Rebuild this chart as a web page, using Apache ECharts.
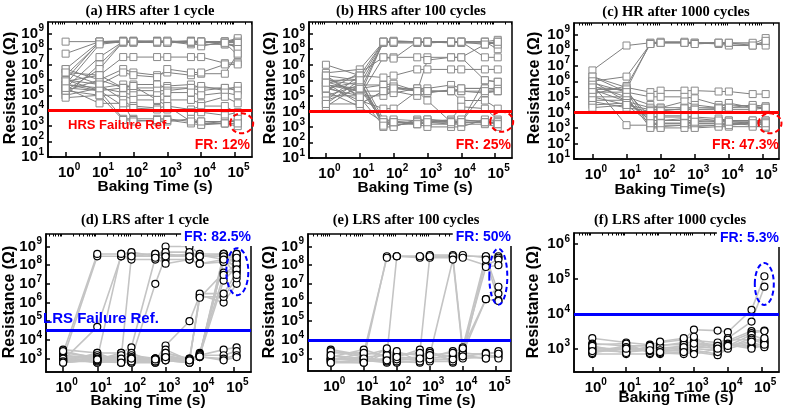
<!DOCTYPE html>
<html><head><meta charset="utf-8">
<script src="https://cdn.jsdelivr.net/npm/echarts@6/dist/echarts.min.js"></script>
<style>html,body{margin:0;padding:0;background:#fff}#c{width:785px;height:415px}</style>
</head><body><div id="c"></div>
<script>
// ---------- DATA ----------
const bakingTimes = [1, 10, 50, 100, 500, 1000, 5000, 10000, 50000, 120000];
const xTickExponents = [0, 1, 2, 3, 4, 5];
const yTicksHRS = [1, 2, 3, 4, 5, 6, 7, 8, 9];
const yTicksLRS = [3, 4, 5, 6, 7, 8, 9];
const yTicksLRS1000 = [3, 4, 5, 6];

const hrsAfter1Cycle = [
  [3e8, 3e8, 3e8, 3e8, 3e8, 3e8, 3e8, 2.5e8, 3e8, 4e8],
  [5e7, 3e8, 3.5e8, 3e8, 3.5e8, 3e8, 3.5e8, 3e8, 2.5e8, 3e8],
  [5e6, 3e8, 3e8, 3.5e8, 3e8, 2.5e8, 3e8, 3e8, 3e8, 5e8],
  [2e6, 2.5e8, 3e8, 3e8, 3e8, 3e8, 2e8, 2e8, 2e8, 2e8],
  [1e6, 3e8, 2.5e8, 3e8, 3e8, 3e8, 3e8, 3e8, 2e8, 1.5e8],
  [5e5, 2e8, 3e8, 2.5e8, 3e8, 3.5e8, 2.5e8, 2.5e8, 3e8, 3e8],
  [3e5, 3e7, 3e8, 3e8, 2.5e8, 3e8, 3e8, 3e8, 3e8, 2.5e8],
  [1e5, 1e7, 3e8, 3e8, 3e8, 2.5e8, 3e8, 1.5e8, 3e8, 1e8],
  [2e5, 5e6, 3e8, 3e8, 3e8, 3e8, 3e8, 3e8, 2.5e8, 4e7],
  [3e6, 2e6, 3e7, 3e7, 3e7, 3e7, 3e7, 3e7, 1.2e7, 1.3e7],
  [5e6, 1e6, 5e6, 3e6, 2e6, 3e6, 2e6, 2.5e6, 2.5e6, 5e7],
  [1e6, 5e5, 3e6, 2e6, 1.5e6, 5e6, 3e6, 3e6, 1e7, 1e7],
  [5e5, 3e5, 5e5, 3e5, 3e5, 4e5, 5e5, 3e5, 3e5, 3e5],
  [3e5, 2e5, 3e5, 5e5, 5e5, 3e5, 3e5, 4e5, 2e5, 4e5],
  [2e5, 1e6, 3e5, 2e5, 2e5, 2e5, 3e5, 2e5, 3e5, 2e5],
  [1e5, 3e5, 1.5e5, 1e5, 1e5, 1.5e5, 1.5e5, 1e5, 1.5e5, 1e5],
  [7e4, 1e5, 1e5, 5e4, 5e4, 5e4, 5e4, 3e4, 8e4, 3e4],
  [1e6, 2e5, 2e4, 2e4, 1.5e4, 2e4, 1.2e4, 2e4, 2e4, 7e3],
  [3e6, 5e5, 5e4, 1.5e4, 1.2e4, 1.2e4, 8e3, 8e3, 5e3, 8e3],
  [5e5, 2e5, 3e3, 3e3, 3e3, 3e3, 2e3, 1.5e3, 1.5e3, 1e3],
  [2e5, 1e5, 2.5e3, 2.5e3, 2e3, 2e3, 3e3, 2e3, 2e3, 2e3],
  [3e5, 3e4, 3e4, 2e3, 2.5e3, 2.5e3, 1.5e3, 1.2e3, 1.5e3, 3e3],
  [8e5, 2e6, 3e5, 4e5, 5e4, 2e4, 2e3, 2e3, 1.5e3, 1.5e3]
];

const hrsAfter100Cycles = [
  [1e7, 2e6, 3e8, 3e8, 3e8, 3e8, 3e8, 3e8, 3e8, 4e8],
  [3e6, 5e6, 3e8, 3.5e8, 3e8, 3e8, 3e8, 3e8, 2e8, 3e8],
  [2e6, 1e6, 3e8, 3e8, 3e8, 2.5e8, 3e8, 3e8, 3e8, 2e8],
  [1e6, 5e5, 2.5e8, 3e8, 3e8, 3e8, 2.5e8, 3e8, 3e8, 1e8],
  [5e5, 2e5, 3e8, 2.5e8, 2.5e8, 3e8, 3e8, 2.5e8, 2.5e8, 3e8],
  [3e5, 1e5, 3e8, 3e8, 3e8, 3e8, 3e8, 3e8, 3e8, 2e8],
  [2e5, 3e6, 3e7, 3e7, 3e7, 3e7, 3e7, 3e7, 2e8, 3e8],
  [1e5, 1e5, 3e7, 2.5e7, 3e8, 3e8, 3e8, 3e8, 3e7, 3e7],
  [5e4, 2e6, 1.5e6, 2e6, 5e6, 5e6, 5e6, 5e6, 5e6, 5e6],
  [2e4, 5e5, 5e5, 6e5, 2e5, 2e7, 3e7, 3e7, 1e6, 8e5],
  [5e5, 3e5, 5e5, 3e5, 3e5, 3e5, 5e5, 3e5, 3e5, 2.5e5],
  [8e5, 2e5, 2e5, 4e5, 2e5, 2e5, 2e5, 2e5, 2e5, 2e5],
  [1.5e6, 1e5, 1e5, 2e5, 1e5, 1.5e5, 2.5e5, 2e5, 1.5e5, 2e5],
  [3e4, 3e4, 2e5, 1.5e5, 3e5, 2e5, 2e5, 3e5, 3e5, 3e5],
  [4e5, 5e4, 1.5e4, 1.5e4, 2e5, 2e5, 2e5, 5e4, 5e4, 1.5e4],
  [2e5, 2e4, 2e3, 2e3, 2e3, 2e3, 3e3, 2e4, 1.5e4, 3e3],
  [1e5, 5e5, 1.5e3, 1.5e3, 1.5e3, 2e3, 2e3, 2e3, 2e3, 2e3],
  [5e4, 3e5, 2e3, 1.2e3, 2e3, 1.5e3, 1.5e3, 1.5e3, 1.5e3, 1e3],
  [3e4, 1e6, 1e3, 1e3, 3e3, 2.5e3, 2e3, 2.5e3, 2.5e3, 1.5e3],
  [6e5, 2e6, 3e3, 2.5e3, 1.5e3, 1e3, 1e3, 1e3, 3e3, 2.5e3],
  [3e5, 8e5, 2e3, 3e3, 2.5e3, 3e3, 2.5e3, 3e3, 2e3, 2e3],
  [1e6, 1e6, 2e3, 2e3, 2e3, 3e3, 2e3, 2e3, 2e5, 2e5],
  [2e6, 8e4, 1.2e3, 2e3, 1.5e3, 2e3, 1.5e3, 2e3, 1e6, 8e5],
  [7e5, 3e4, 2e5, 3e5, 2e5, 5e4, 2e3, 2e3, 2e3, 1.5e3]
];

const hrAfter1000Cycles = [
  [5e6, 2e8, 3e8, 3e8, 3e8, 3e8, 3e8, 2.5e8, 2.5e8, 6e8],
  [1e6, 2e6, 2.5e8, 3e8, 3e8, 3e8, 2.5e8, 2e8, 2e8, 3e8],
  [3e5, 3e5, 3e8, 3.5e8, 3.5e8, 3e8, 3e8, 3e8, 3e8, 2e8],
  [1.5e5, 5e5, 2.5e8, 3e8, 3e8, 2.5e8, 3e8, 3e8, 2e8, 4e8],
  [2e6, 4e5, 2e5, 2.5e5, 2.5e5, 2.5e5, 2.2e5, 2.2e5, 1.5e5, 1.5e5],
  [8e5, 2e5, 1e5, 1e5, 1e5, 8e4, 3e4, 3e4, 2.5e4, 2e4],
  [5e5, 1e5, 3e4, 2e4, 5e4, 3e4, 2e4, 4e4, 2e4, 2e4],
  [3e5, 5e4, 2e4, 2e4, 2e4, 2e4, 2e4, 2e4, 3e4, 2.5e4],
  [1e5, 3e4, 1.5e4, 1.5e4, 1.5e4, 1.5e4, 1.5e4, 1.5e4, 1.5e4, 2e4],
  [5e4, 2e4, 1.2e4, 1.2e4, 1.8e4, 1.5e4, 1.8e4, 2e4, 2e4, 2e4],
  [2e6, 2e5, 5e3, 5e3, 5e3, 4e3, 3e3, 3e3, 3e3, 3e3],
  [1e6, 5e4, 3e3, 3e3, 3e3, 3e3, 2.5e3, 2.5e3, 2.5e3, 2e3],
  [6e5, 1.5e3, 1.5e3, 2e3, 2e3, 2e3, 2e3, 2e3, 2e3, 1.5e3],
  [4e5, 3e5, 2e3, 1.5e3, 1.5e3, 1.5e3, 1.5e3, 1.5e3, 2e3, 2.5e3],
  [2e5, 2e5, 1.2e3, 1.2e3, 1.5e3, 1.2e3, 1.5e3, 2e3, 1.5e3, 1e3],
  [1e5, 1e5, 1e3, 1e3, 1e3, 1e3, 1.2e3, 1.2e3, 1.2e3, 1.2e3],
  [6e4, 6e4, 3e3, 3e3, 4e3, 2e3, 2e3, 1.5e3, 2.5e3, 3e3],
  [3e4, 4e4, 5e3, 6e3, 6e3, 5e3, 4e3, 3e3, 3e3, 2.5e3],
  [2e4, 3e4, 2e3, 2e3, 2e3, 2.5e3, 3e3, 2.5e3, 2e3, 2e3]
];

const lrsAfter1Cycle = [
  [1e3, 3e8, 3e8, 3e8, 3e8, 4e8, 3e8, 3e8, 3e8, 4e8],
  [2e3, 4e8, 4e8, 4e8, 4e8, 3e8, 4e8, 3.5e8, 2e8, 3e8],
  [8e2, 5e4, 3e8, 2e8, 2e8, 1e9, 1e9, 4e8, 4e8, 2e8],
  [1.5e3, 1e3, 4e8, 5e8, 3e8, 2e8, 2e8, 1.2e8, 1.5e8, 1e8],
  [7e2, 8e2, 1e3, 3e8, 4e8, 5e8, 5e8, 3e8, 3e8, 3e8],
  [3e3, 2e3, 2e3, 4e3, 2.5e8, 1.2e8, 2e8, 1.2e8, 2e8, 1.5e8],
  [1.2e3, 1.5e3, 8e2, 1e3, 1e7, 3e8, 3e8, 3e8, 4e8, 2e8],
  [9e2, 7e2, 7e2, 7e2, 8e2, 5e3, 1e5, 2.5e6, 1e6, 1e7],
  [1e3, 6e2, 1.5e3, 2e3, 6e2, 3e3, 8e2, 2e6, 2e6, 2e7],
  [6e2, 9e2, 2e3, 8e2, 1e3, 1.5e3, 7e2, 3e6, 3e6, 4e7],
  [2e3, 1.2e3, 6e2, 1.5e3, 1e3, 1e3, 1e3, 1.8e6, 4e7, 5e7],
  [8e2, 1e3, 1e3, 1.2e3, 9e2, 1.2e3, 9e2, 1.5e3, 1.5e7, 8e7],
  [7e2, 2e3, 7e2, 6e2, 7e2, 8e2, 6e2, 2e3, 3e7, 1.2e8],
  [1.5e3, 8e2, 1.2e3, 1e3, 8e2, 2e3, 1e3, 1.5e3, 4e8, 3e8],
  [1.2e3, 6e2, 8e2, 7e2, 9e2, 9e2, 7e2, 1.2e3, 2e8, 4e8],
  [9e2, 1.5e3, 9e2, 9e2, 1e3, 1.2e3, 8e2, 1.8e3, 1.5e8, 2.5e8],
  [2.5e3, 1e3, 1.5e3, 6e2, 6e2, 1e3, 6e2, 1.5e3, 3e8, 6e7],
  [7e2, 7e2, 6e2, 8e2, 7e2, 1.5e3, 8e2, 1.3e3, 2e8, 3e7],
  [8e2, 8e2, 9e2, 1e3, 1e3, 2e3, 9e2, 1.5e3, 3e3, 4e3],
  [1e3, 1.2e3, 8e2, 8e2, 8e2, 1e3, 7e2, 1.5e3, 1.5e3, 2.5e3],
  [7e2, 1e3, 1e3, 7e2, 7e2, 8e2, 6e2, 1.2e3, 1e3, 1.5e3],
  [6e2, 9e2, 6e2, 1e3, 9e2, 1.2e3, 8e2, 1.3e3, 8e2, 1.2e3]
];

const lrsAfter100Cycles = [
  [1e3, 1e3, 3e8, 3e8, 3e8, 3e8, 3e8, 3e8, 3e8, 3e8],
  [2e3, 2e3, 2.5e8, 3e8, 2.5e8, 3.5e8, 3.5e8, 3.5e8, 2.5e8, 2.5e8],
  [8e2, 1.2e3, 1.5e3, 3e8, 3e8, 2.5e8, 2.5e8, 2.5e8, 1e8, 2e8],
  [1.5e3, 7e2, 8e2, 1.5e3, 2e3, 3e8, 3e8, 3e3, 8e7, 1e8],
  [3e3, 1.5e3, 3e3, 8e2, 1e3, 1.5e3, 2e8, 2e3, 1.5e6, 7e6],
  [6e2, 8e2, 6e2, 2e3, 1.5e3, 2e3, 8e2, 4e3, 3e8, 3e6],
  [1.2e3, 3e3, 1.2e3, 1.2e3, 3e3, 1e3, 1.5e3, 1.5e3, 2e8, 1.3e6],
  [7e2, 6e2, 2e3, 6e2, 8e2, 2.5e3, 6e2, 1.2e3, 2e3, 2e3],
  [9e2, 9e2, 9e2, 1e3, 1.2e3, 8e2, 1e3, 2e3, 1.5e3, 2.5e3],
  [2.5e3, 1.2e3, 7e2, 7e2, 6e2, 1.2e3, 2.5e3, 1.5e3, 1e3, 1.5e3],
  [1e3, 7e2, 1e3, 9e2, 9e2, 2e3, 1.2e3, 1e3, 1.2e3, 1.2e3],
  [8e2, 2e3, 1.5e3, 1.5e3, 2e3, 7e2, 7e2, 1.8e3, 1.8e3, 1e3],
  [1.5e3, 1e3, 8e2, 2.5e3, 7e2, 9e2, 9e2, 1.3e3, 1e3, 1.8e3],
  [6e2, 6e2, 3.5e3, 1.2e3, 1e3, 1.5e3, 2e3, 3.5e3, 1.5e6, 1.2e6]
];

const lrsAfter1000Cycles = [
  [2e3, 1.5e3, 1.3e3, 1.5e3, 1.8e3, 3.5e3, 3.3e3, 3e3, 1.3e4, 1.2e5],
  [1.4e3, 1.2e3, 1.2e3, 1.2e3, 1.5e3, 1.5e3, 1.3e3, 2e3, 6e3, 6e4],
  [1e3, 1e3, 1e3, 1e3, 1.2e3, 1.3e3, 1.2e3, 1.7e3, 3.2e3, 3.3e3],
  [9e2, 8e2, 9e2, 8e2, 1e3, 1.2e3, 1e3, 1.5e3, 2.8e3, 3.2e3],
  [8e2, 1.2e3, 8e2, 9e2, 9e2, 1e3, 9e2, 1.2e3, 2.5e3, 1.8e3],
  [7e2, 7e2, 7e2, 7e2, 8e2, 9e2, 7e2, 1.1e3, 2e3, 1.6e3],
  [1.1e3, 9e2, 1.1e3, 1.3e3, 1.3e3, 1.7e3, 1.5e3, 1.8e3, 1.8e3, 1.4e3],
  [1.3e3, 1.4e3, 7.5e2, 7.5e2, 7e2, 8e2, 6.5e2, 1e3, 1.5e3, 1.2e3],
  [9.5e2, 8e2, 1e3, 1.1e3, 1e3, 1.1e3, 1.1e3, 1.3e3, 1.2e3, 1.1e3],
  [7.5e2, 1.1e3, 8.5e2, 9e2, 1.1e3, 1.4e3, 1.2e3, 1.4e3, 1.1e3, 1.5e3],
  [1.2e3, 7.5e2, 1.2e3, 1.6e3, 2e3, 2.2e3, 8e2, 1.3e3, 1e3, 1.3e3],
  [8.5e2, 1e3, 9e2, 8e2, 8e2, 7e2, 1e3, 1.2e3, 1.6e3, 2e3]
];

const failureRefs = [1e4, 1e4, 1e4, 3.5e4, 1e4, 1e4];
const panelTitles = ['(a) HRS after 1 cycle', '(b) HRS after 100 cycles', '(c) HR after 1000 cycles',
  '(d) LRS after 1 cycle', '(e) LRS after 100 cycles', '(f) LRS after 1000 cycles'];
const xNames = ['Baking Time (s)', 'Baking Time (s)', 'Baking Time(s)', 'Baking Time (s)', 'Baking Time (s)', 'Baking Time (s)'];
const yName = 'Resistance (\u03A9)';
const frLabels = ['FR: 12%', 'FR: 25%', 'FR: 47.3%', 'FR: 82.5%', 'FR: 50%', 'FR: 5.3%'];

// ---------- LAYOUT / STYLE ----------
const SANS = '"Liberation Sans", Arial, sans-serif';
const SERIF = '"Liberation Serif", "Times New Roman", serif';
const L = Math.log10;

const panels = [
  {rows: hrsAfter1Cycle, kind: 'hrs', grid: {left: 48, top: 22, width: 204, height: 135}, xr: [-0.52, 5.5], yr: [1, 9.75], yTicks: yTicksHRS},
  {rows: hrsAfter100Cycles, kind: 'hrs', grid: {left: 309, top: 22, width: 203, height: 136}, xr: [-0.5, 5.5], yr: [1, 9.75], yTicks: yTicksHRS},
  {rows: hrAfter1000Cycles, kind: 'hrs', grid: {left: 574, top: 23, width: 205, height: 136}, xr: [-0.54, 5.47], yr: [1, 9.75], yTicks: yTicksHRS},
  {rows: lrsAfter1Cycle, kind: 'lrs', grid: {left: 46, top: 234, width: 205, height: 138}, xr: [-0.5, 5.5], yr: [2.28, 9.67], yTicks: yTicksLRS},
  {rows: lrsAfter100Cycles, kind: 'lrs', grid: {left: 308, top: 234, width: 203, height: 137}, xr: [-0.69, 5.46], yr: [2.33, 9.67], yTicks: yTicksLRS},
  {rows: lrsAfter1000Cycles, kind: 'lrs', grid: {left: 574, top: 233, width: 205, height: 139}, xr: [-0.54, 5.51], yr: [2.33, 6.32], yTicks: yTicksLRS1000}
];

const minorExps = [];
for (let k = -1; k <= 5; k++) for (let m = 2; m <= 9; m++) minorExps.push(L(m * Math.pow(10, k)));

const rich = {
  b: {fontFamily: SANS, fontWeight: 'bold', fontSize: 15, lineHeight: 18, verticalAlign: 'bottom', color: '#000'},
  s: {fontFamily: SANS, fontWeight: 'bold', fontSize: 10, lineHeight: 10, verticalAlign: 'top', color: '#000'}
};
const powFmt = v => '{b|10}{s|' + Math.round(v) + '}';

const grid = [], xAxis = [], yAxis = [], series = [];
panels.forEach((p, i) => {
  grid.push(Object.assign({show: true, borderColor: '#000', borderWidth: 1.5, containLabel: false}, p.grid));
  xAxis[i] = {
    type: 'value', gridIndex: i, min: p.xr[0], max: p.xr[1],
    axisLine: {show: true, onZero: false, lineStyle: {color: '#000', width: 1.5}},
    axisTick: {show: true, inside: true, length: 5, customValues: xTickExponents, lineStyle: {color: '#000', width: 1.5}},
    axisLabel: {customValues: xTickExponents, formatter: powFmt, rich: rich, margin: 5, padding: [0, 0, 0, 7],
      showMinLabel: true, showMaxLabel: true, hideOverlap: false},
    splitLine: {show: false}
  };
  xAxis[6 + i] = {
    type: 'value', gridIndex: i, min: p.xr[0], max: p.xr[1],
    axisLine: {show: false, onZero: false},
    axisTick: {show: true, inside: true, length: 2.5, customValues: minorExps.filter(v => v > p.xr[0] && v < p.xr[1]), lineStyle: {color: '#000', width: 1}},
    axisLabel: {show: false}, splitLine: {show: false}
  };
  // main y axis: "10" mantissa labels
  yAxis[i] = {
    type: 'value', gridIndex: i, min: p.yr[0], max: p.yr[1], position: 'left',
    axisLine: {show: true, onZero: false, lineStyle: {color: '#000', width: 1.5}},
    axisTick: {show: true, inside: true, length: 4, customValues: p.yTicks, lineStyle: {color: '#000', width: 1.5}},
    axisLabel: {customValues: p.yTicks, formatter: () => '10', fontFamily: SANS, fontWeight: 'bold', fontSize: 15, lineHeight: 14,
      color: '#000', margin: 10, showMinLabel: true, showMaxLabel: true, hideOverlap: false},
    splitLine: {show: false}
  };
  // overlay y axis: exponent superscripts
  yAxis[6 + i] = {
    type: 'value', gridIndex: i, min: p.yr[0], max: p.yr[1], position: 'left',
    axisLine: {show: false, onZero: false}, axisTick: {show: false}, splitLine: {show: false},
    axisLabel: {customValues: p.yTicks, formatter: v => String(Math.round(v)), fontFamily: SANS, fontWeight: 'bold', fontSize: 10,
      lineHeight: 10, verticalAlign: 'bottom', color: '#000', margin: 4, showMinLabel: true, showMaxLabel: true, hideOverlap: false}
  };
  const hrs = p.kind === 'hrs';
  const lineColor = hrs ? '#808080' : '#c4c4c4';
  p.rows.forEach(row => {
    series.push({
      type: 'line', xAxisIndex: i, yAxisIndex: i, silent: true, animation: false,
      showSymbol: false, symbol: 'none', z: 2,
      lineStyle: {color: lineColor, width: hrs ? 1 : 1.6},
      data: bakingTimes.map((t, j) => [L(t), L(row[j])])
    });
  });
  const pts = [];
  p.rows.forEach(row => bakingTimes.forEach((t, j) => pts.push([L(t), L(row[j])])));
  series.push({
    type: 'scatter', xAxisIndex: i, yAxisIndex: i, silent: true, animation: false, z: 3,
    symbol: hrs ? 'rect' : 'circle', symbolSize: 7,
    itemStyle: {color: '#fff', borderColor: hrs ? '#8a8a8a' : '#000', borderWidth: hrs ? 1 : 1.2, opacity: 1},
    data: pts,
    markLine: {
      silent: true, symbol: 'none', animation: false, label: {show: false},
      lineStyle: {color: hrs ? '#ff0000' : '#0000ff', width: 3, type: 'solid'},
      data: [{yAxis: L(failureRefs[i])}]
    }
  });
});

// ---------- ANNOTATIONS (pixel placed) ----------
const textEls = [];
const titlePos = [[150, 11], [411, 11], [676, 12], [145, 220], [406, 220], [670, 220]];
const yNamePos = [[11, 88], [271, 88], [535, 88], [10, 302], [270, 302], [534, 302]];
const xNamePos = [[155, 187], [415, 188], [670, 190], [148, 401], [418, 401], [676, 398]];
panelTitles.forEach((t, i) => {
  textEls.push({type: 'text', x: titlePos[i][0], y: titlePos[i][1], z: 100,
    style: {text: t, font: 'bold 14.5px ' + SERIF, fill: '#000', textAlign: 'center', textVerticalAlign: 'middle'}});
  textEls.push({type: 'text', x: yNamePos[i][0], y: yNamePos[i][1], rotation: Math.PI / 2, z: 100,
    style: {text: yName, font: 'bold 16px ' + SANS, fill: '#000', textAlign: 'center', textVerticalAlign: 'middle'}});
  textEls.push({type: 'text', x: xNamePos[i][0], y: xNamePos[i][1], z: 100,
    style: {text: xNames[i], font: 'bold 15.5px ' + SANS, fill: '#000', textAlign: 'center', textVerticalAlign: 'middle'}});
});
const frPos = [[250, 145], [511, 145], [779, 145], [252, 237], [512, 237], [780, 238]];
frLabels.forEach((t, i) => {
  const top = i >= 3;
  textEls.push({type: 'text', x: frPos[i][0], y: frPos[i][1], z: 101,
    style: Object.assign({text: t, font: 'bold 14px ' + SANS, fill: top ? '#0000ff' : '#ff0000', textAlign: 'right', textVerticalAlign: 'middle'},
      top ? {backgroundColor: '#fff', padding: [2, 1, 2, 3]} : {})});
});
textEls.push({type: 'text', x: 68, y: 125, z: 101,
  style: {text: 'HRS Failure Ref.', font: 'bold 13px ' + SANS, fill: '#ff0000', textAlign: 'left', textVerticalAlign: 'middle'}});
textEls.push({type: 'text', x: 43, y: 319, z: 101,
  style: {text: 'LRS Failure Ref.', font: 'bold 15px ' + SANS, fill: '#0000ff', textAlign: 'left', textVerticalAlign: 'middle'}});

const ellipses = [
  [241.7, 123.3, 11.5, 10, '#ff0000'], [501.7, 121.7, 11.5, 10, '#ff0000'], [770, 123.3, 11.5, 10, '#ff0000'],
  [237.3, 271.7, 11, 23.5, '#0000ff'], [498.3, 276.7, 9, 28, '#0000ff'], [764.3, 284, 9.5, 21, '#0000ff']
];
ellipses.forEach(e => textEls.push({type: 'ellipse', z: 99, shape: {cx: e[0], cy: e[1], rx: e[2], ry: e[3]},
  style: {fill: 'none', stroke: e[4], lineWidth: 2, lineDash: [5, 3]}}));

const chart = echarts.init(document.getElementById('c'), null, {renderer: 'canvas'});
chart.setOption({
  animation: false, backgroundColor: '#fff',
  grid, xAxis, yAxis, series,
  graphic: {elements: textEls}
});
</script></body></html>
